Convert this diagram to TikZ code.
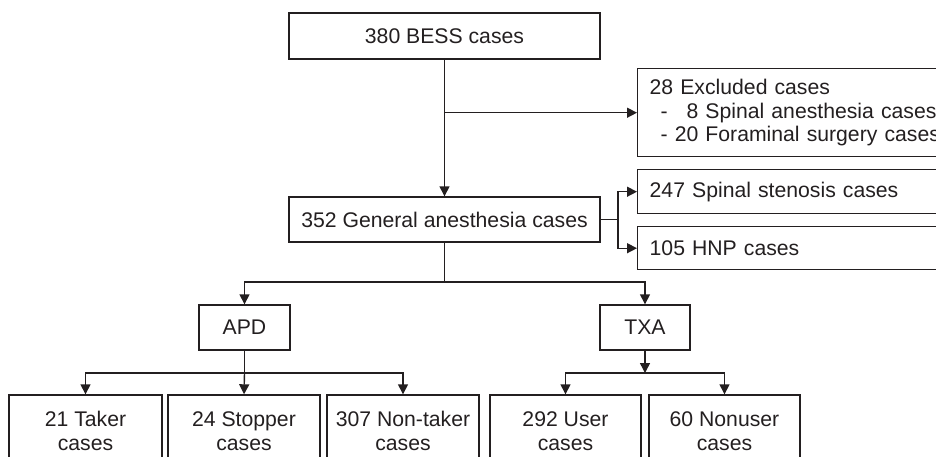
\documentclass[tikz,border=0pt]{standalone}
\usepackage{fontspec}
\setmainfont{Liberation Sans}
\usetikzlibrary{arrows.meta}
\definecolor{ink}{HTML}{231F20}
\tikzset{>={Triangle[length=10pt,width=10pt]}}

\begin{document}
\begin{tikzpicture}[x=1pt, y=-1pt, line width=1.4pt, draw=ink, text=ink,
    font=\fontsize{21.2}{24}\selectfont,
    box/.style={draw, inner sep=0pt, align=center},
    leafbox/.style={box, minimum width=152pt, minimum height=72pt},
    sidebox/.style={draw, anchor=north west, inner xsep=12pt, inner ysep=0pt,
        text width=330pt, align=left}]

    \useasboundingbox (0,0) rectangle (936,456);
    \clip (0,0) rectangle (936,456);

    % main column
    \node[box, minimum width=311pt, minimum height=46pt] (bess) at (444.5,36) {380 BESS cases};
    \node[box, minimum width=311pt, minimum height=45pt] (gen) at (444.5,219.5) {352 General anesthesia cases};

    % side boxes
    \node[sidebox, minimum height=88pt, font=\fontsize{21.2}{23.5}\selectfont] (excl) at (637,68)
        {28 Excluded cases\\ \hspace*{11pt}- \hphantom{2}8 Spinal anesthesia cases\\ \hspace*{11pt}- 20 Foraminal surgery cases};
    \node[sidebox, minimum height=44pt] (sten) at (637,169) {247 Spinal stenosis cases};
    \node[sidebox, minimum height=43pt] (hnp) at (637,226) {105 HNP cases};

    % groups
    \node[box, minimum width=91pt, minimum height=45pt] (apd) at (244.5,327.5) {APD};
    \node[box, minimum width=90pt, minimum height=45pt] (txa) at (645,327.5) {TXA};

    % leaves
    \node[leafbox, minimum width=153pt] (taker) at (85.5,431) {21 Taker\\cases};
    \node[leafbox] (stopper) at (244,431) {24 Stopper\\cases};
    \node[leafbox] (nontaker) at (403,431) {307 Non-taker\\cases};
    \node[leafbox, minimum width=151pt] (user) at (565.5,431) {292 User\\cases};
    \node[leafbox, minimum width=151pt] (nonuser) at (724.5,431) {60 Nonuser\\cases};

    % junctions
    \coordinate (gsplit) at (618,219.5);
    \coordinate (gfork) at (444.5,282);
    \coordinate (afork) at (244.5,373);
    \coordinate (tfork) at (645,373);

    % connectors
    \draw[->] (bess.south) -- (gen.north);
    \draw[->] (bess.south |- excl.west) -- (excl.west);

    \draw (gen.east) -- (gsplit);
    \draw[->] (gsplit) |- (sten.west);
    \draw[->] (gsplit) |- (hnp.west);

    \draw (gen.south) -- (gfork);
    \draw[->] (gfork) -| (apd.north);
    \draw[->] (gfork) -| (txa.north);

    \draw (apd.south) -- (afork);
    \draw[->] (afork) -| (taker.north);
    \draw[->] (afork) -- (stopper.north);
    \draw[->] (afork) -| (nontaker.north);

    \draw[->] (txa.south) -- (tfork);
    \draw[->] (tfork) -| (user.north);
    \draw[->] (tfork) -| (nonuser.north);

\end{tikzpicture}
\end{document}
